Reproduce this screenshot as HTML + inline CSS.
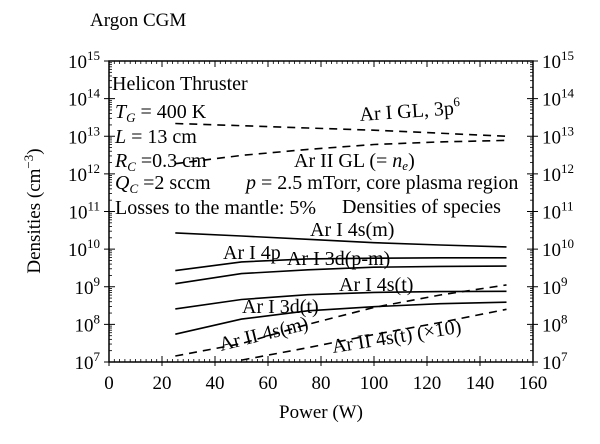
<!DOCTYPE html>
<html><head><meta charset="utf-8"><style>
body{margin:0;background:#fff}
svg{display:block;font-family:"Liberation Serif",serif;}
</style></head><body>
<svg id="c" width="600" height="444" viewBox="0 0 600 444">
<text x="90" y="26" font-size="19">Argon CGM</text>
<rect x="109" y="61" width="424" height="301" fill="none" stroke="#000" stroke-width="1.5"/>
<g id="ticks"></g>
<g id="series"></g>
<text transform="translate(40,211) rotate(-90)" text-anchor="middle" font-size="19">Densities (cm<tspan dy="-7" font-size="13">−3</tspan><tspan dy="7">)</tspan></text>
<text x="321" y="418" text-anchor="middle" font-size="19">Power (W)</text>
<g font-size="20">
<text x="112" y="90">Helicon Thruster</text>
<text x="115" y="118"><tspan font-style="italic">T</tspan><tspan font-size="13" dy="4" font-style="italic">G</tspan><tspan dy="-4"> = 400 K</tspan></text>
<text x="115" y="143"><tspan font-style="italic">L</tspan> = 13 cm</text>
<text x="115" y="167"><tspan font-style="italic">R</tspan><tspan font-size="13" dy="4" font-style="italic">C</tspan><tspan dy="-4"> =0.3 cm</tspan></text>
<text x="115" y="189"><tspan font-style="italic">Q</tspan><tspan font-size="13" dy="4" font-style="italic">C</tspan><tspan dy="-4"> =2 sccm</tspan></text>
<text x="115" y="214">Losses to the mantle: 5%</text>
<text x="246" y="189"><tspan font-style="italic">p</tspan> = 2.5 mTorr, core plasma region</text>
<text x="342" y="213">Densities of species</text>
<text x="360" y="121" transform="rotate(-4 360 121)">Ar I GL, 3p<tspan dy="-8" font-size="13">6</tspan></text>
<text x="294" y="167">Ar II GL (= <tspan font-style="italic">n</tspan><tspan font-size="13" dy="3" font-style="italic">e</tspan><tspan dy="-3">)</tspan></text>
<text x="310" y="236">Ar I 4s(m)</text>
<text x="223" y="259">Ar I 4p</text>
<text x="287" y="265">Ar I 3d(p-m)</text>
<text x="339" y="291">Ar I 4s(t)</text>
<text x="242" y="313">Ar I 3d(t)</text>
<text x="221" y="351" transform="rotate(-14 221 351)">Ar II 4s(m)</text>
<text x="333" y="353" transform="rotate(-9 333 353)">Ar II 4s(t) (×10)</text>
</g>
</svg>
<script>
const powers=[25,50,75,100,125,150];
const arIGL=[13.34,13.28,13.22,13.16,13.08,13.0];
const arIIGL=[12.27,12.49,12.65,12.78,12.85,12.89];
const arI4sm=[10.43,10.35,10.26,10.17,10.11,10.06];
const arI4p=[9.43,9.66,9.74,9.76,9.77,9.77];
const arI3dpm=[9.08,9.35,9.45,9.52,9.54,9.55];
const arI4st=[8.41,8.66,8.79,8.85,8.87,8.88];
const arI3dt=[7.74,8.14,8.36,8.47,8.55,8.59];
const arII4sm=[7.16,7.49,8.0,8.45,8.78,9.05];
const arII4stP=[50,75,100,125,150];
const arII4st=[7.05,7.38,7.73,8.05,8.40];
const xTicks=[0,20,40,60,80,100,120,140,160];
const yTicks=[7,8,9,10,11,12,13,14,15];
const NS="http://www.w3.org/2000/svg";
const X0=109,X1=533,Y0=362,Y1=61;
const sx=v=>X0+(v-0)/160*(X1-X0);
const sy=v=>Y0-(v-7)/8*(Y0-Y1);
function mk(t,a,p){const e=document.createElementNS(NS,t);for(const k in a)e.setAttribute(k,a[k]);p.appendChild(e);return e;}
const tg=document.getElementById('ticks');
xTicks.forEach(v=>{
 const l=mk('line',{x1:sx(v),x2:sx(v),y1:Y0+4,y2:Y0-6,stroke:'#000'},tg);
 
 
 const l2=mk('line',{x1:sx(v),x2:sx(v),y1:Y1,y2:Y1+6,stroke:'#000'},tg);
 
 
 const t=mk('text',{x:sx(v),y:Y0+27,'text-anchor':'middle','font-size':19},tg);
 t.textContent=v;
 
 
});
for(let v=0;v<=160;v+=2){if(v%20){mk('line',{x1:sx(v),x2:sx(v),y1:Y0,y2:Y0-3,stroke:'#000','stroke-width':0.8},tg);mk('line',{x1:sx(v),x2:sx(v),y1:Y1,y2:Y1+3,stroke:'#000','stroke-width':0.8},tg);}}
yTicks.forEach(v=>{
 const y=sy(v);
 const l=mk('line',{x1:X0-5,x2:X0+6,y1:y,y2:y,stroke:'#000'},tg);
 
 
 const r=mk('line',{x1:X1-6,x2:X1+5,y1:y,y2:y,stroke:'#000'},tg);
 
 
 [[X0-9,'end','y-tick-label'],[X1+9,'start','y-tick-label-right']].forEach(([x,a,n])=>{
  const t=mk('text',{x:x,y:y+7,'text-anchor':a,'font-size':19},tg);
  t.innerHTML='10<tspan dy="-8" font-size="13">'+v+'</tspan>';
  
  
 });
 if(v<15)for(let m=2;m<10;m++){const yy=sy(v+Math.log10(m));mk('line',{x1:X0,x2:X0+3,y1:yy,y2:yy,stroke:'#000','stroke-width':0.8},tg);mk('line',{x1:X1-3,x2:X1,y1:yy,y2:yy,stroke:'#000','stroke-width':0.8},tg);}
});
const sg=document.getElementById('series');
function line(xs,ys,dash,name){
 const p=mk('path',{d:xs.map((x,i)=>(i?'L':'M')+sx(x).toFixed(1)+','+sy(ys[i]).toFixed(1)).join(''),fill:'none',stroke:'#000','stroke-width':1.6},sg);
 if(dash)p.setAttribute('stroke-dasharray','8,6');
 
 
}
line(powers,arIGL,true,'line-ar1-gl');
line(powers,arIIGL,true,'line-ar2-gl');
line(powers,arI4sm,false,'line-ar1-4sm');
line(powers,arI4p,false,'line-ar1-4p');
line(powers,arI3dpm,false,'line-ar1-3dpm');
line(powers,arI4st,false,'line-ar1-4st');
line(powers,arI3dt,false,'line-ar1-3dt');
line(powers,arII4sm,true,'line-ar2-4sm');
line(arII4stP,arII4st,true,'line-ar2-4st');
</script>
</body></html>
